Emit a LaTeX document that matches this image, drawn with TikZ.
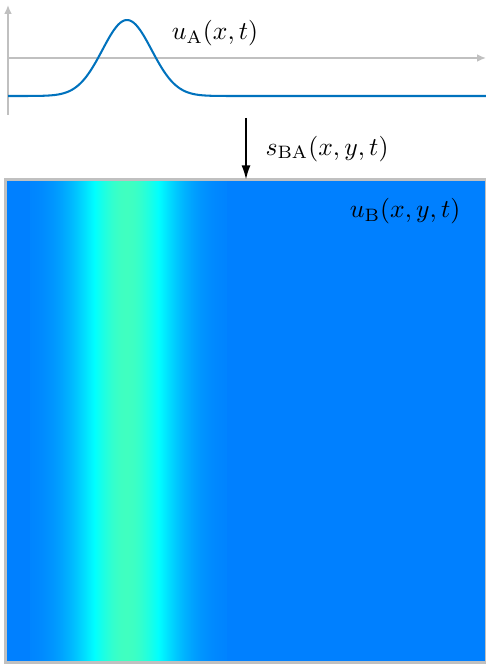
\documentclass[tikz,border=0pt]{standalone}
\usepackage{tikz}
\usetikzlibrary{arrows.meta, positioning, calc}
\usepackage{amsmath}

\definecolor{axisgray}{RGB}{192,192,192}
\definecolor{waveblue}{RGB}{0,114,189}
\definecolor{jetlow}{RGB}{0,128,255}
\definecolor{jetmid}{RGB}{0,255,255}
\definecolor{jethigh}{RGB}{64,255,192}

\begin{document}
\begin{tikzpicture}[
    x=0.39pt, y=-0.39pt,
    axis/.style={draw=axisgray, line width=0.6pt, -{Latex[length=3.5pt,width=3pt]}},
    wave/.style={draw=waveblue, line width=0.8pt},
    field/.style={rectangle, fill=jetlow, inner sep=0pt, minimum width=480*0.39pt, minimum height=482*0.39pt},
    frame/.style={draw=axisgray, line width=1pt},
    arrow/.style={line width=0.6pt, -{Latex[length=5.5pt,width=3.5pt]}},
    lbl/.style={inner sep=1pt}
]
\useasboundingbox (0,0) rectangle (486,664);

% Top signal
\coordinate (origin) at (8,58);
\draw [axis] (8,115) -- (8,5);
\draw [axis] (origin) -- (486,58);
\draw [wave] plot[domain=8:486, samples=240, smooth] (\x, {96-76*exp(-((\x-127)/24.6)^2/2)});
\node (labelA) [lbl] at (215,33) {$u_{\mathrm{A}}(x,t)$};

% Field B
\node (fieldB) [field] at (246,421) {};
\foreach \i in {30,...,226}{
    \pgfmathsetmacro{\v}{exp(-((\i+0.5-127)/35.5)^2/2)}
    \pgfmathsetmacro{\pa}{min(100,100*\v/0.667)}
    \pgfmathsetmacro{\pb}{max(0,100*(\v-0.667)/0.333)}
    \fill [jethigh!\pb!jetmid!\pa!jetlow] (\i,181) rectangle (\i+1.3,661);
}
\draw [frame] (fieldB.south west) rectangle (fieldB.north east);
\node (labelB) [lbl, below left=6pt and 9pt of fieldB.north east, anchor=north east] {$u_{\mathrm{B}}(x,y,t)$};

% Connections
\coordinate (src) at (246,118);
\draw [arrow] (src) -- node[right, xshift=4pt] {$s_{\mathrm{BA}}(x,y,t)$} (src |- fieldB.north);

\end{tikzpicture}
\end{document}
